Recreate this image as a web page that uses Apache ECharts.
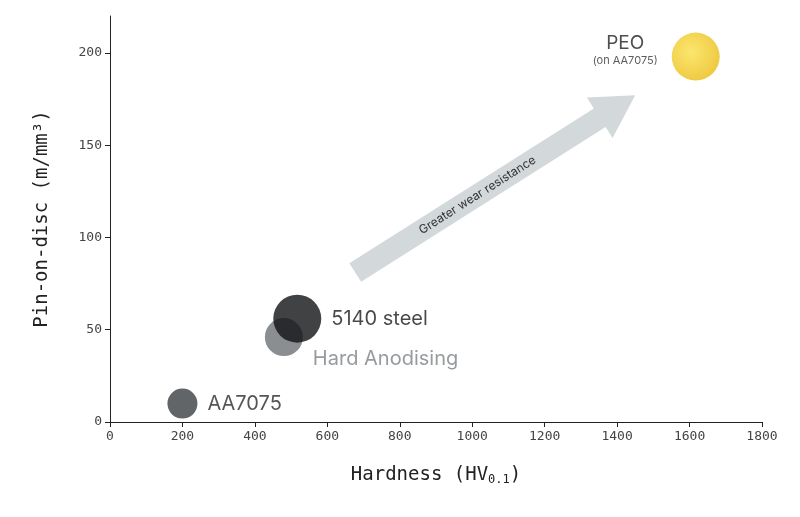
<!DOCTYPE html>
<html><head><meta charset="utf-8">
<script src="https://cdn.jsdelivr.net/npm/echarts@6/dist/echarts.min.js"></script>
<style>html,body{margin:0;background:#fff}#c{width:800px;height:517px}</style>
</head><body><div id="c"></div>
<script>
const names=['AA7075','Hard Anodising','5140 steel','PEO'];
const hardness=[200,480,517,1617];
const pinOnDisc=[10,46,56,198];
const sizes=[30,38,48,48];
const colors=['#3a3e42','#6e7276','#111315','#f2c617'];
const labelColors=['#2a2a2a','#7e8286','#1a1a1a','#222'];
const arrow=[[677,81],[1450,177]];
const mono='DejaVu Sans Mono';
const chart=echarts.init(document.getElementById('c'));
const data=names.map((n,i)=>({value:[hardness[i],pinOnDisc[i]],symbolSize:sizes[i],
 itemStyle:{color:i===3?new echarts.graphic.RadialGradient(0.4,0.4,0.7,[{offset:0,color:'#fbe04a'},{offset:1,color:'#e9b80c'}]):colors[i]},
 label:i===3?{show:true,position:'left',distance:14,formatter:'{a|PEO}\n{b|(on AA7075)}',rich:{a:{fontSize:19,color:'#222',fontFamily:'Inter',align:'center',lineHeight:24},b:{fontSize:11,color:'#333',fontFamily:'Inter',align:'center'}},offset:[0,-8]}
 :i===1?{show:true,position:'right',distance:10,offset:[0,22],formatter:n,fontSize:20,color:labelColors[i],fontFamily:'Inter'}
 :{show:true,position:'right',distance:10,formatter:n,fontSize:20,color:labelColors[i],fontFamily:'Inter'}}));
chart.setOption({
 grid:{left:110,right:38,top:16,bottom:95},
 xAxis:{type:'value',min:0,max:1800,interval:200,splitLine:{show:false},
  axisLine:{lineStyle:{color:'#222'}},axisTick:{lineStyle:{color:'#222'}},
  axisLabel:{fontFamily:mono,fontSize:13,color:'#444',formatter:v=>String(v)},
  name:'Hardness (HV{s|0.1})',nameLocation:'middle',nameGap:42,
  nameTextStyle:{fontFamily:mono,fontSize:19,color:'#222',rich:{s:{fontFamily:mono,fontSize:12,color:'#222',padding:[10,0,0,0]}}}},
 yAxis:{type:'value',min:0,max:220,interval:50,splitLine:{show:false},
  axisLine:{show:true,lineStyle:{color:'#222'}},axisTick:{show:true,lineStyle:{color:'#222'}},
  axisLabel:{fontFamily:mono,fontSize:13,color:'#444',showMaxLabel:false},
  name:'Pin-on-disc (m/mm³)',nameLocation:'middle',nameGap:58,
  nameTextStyle:{fontFamily:mono,fontSize:19,color:'#222'}},
 series:[{type:'scatter',data:data,z:3},
 {type:'custom',silent:true,z:1,data:[arrow[0].concat(arrow[1])],
  renderItem:(p,api)=>{
   const a=api.coord([api.value(0),api.value(1)]),b=api.coord([api.value(2),api.value(3)]);
   const dx=b[0]-a[0],dy=b[1]-a[1],L=Math.hypot(dx,dy),ux=dx/L,uy=dy/L,nx=-uy,ny=ux;
   const w=11,hw=24,hl=42,bx=b[0]-ux*hl,by=b[1]-uy*hl;
   const pts=[[a[0]+nx*w,a[1]+ny*w],[bx+nx*w,by+ny*w],[bx+nx*hw,by+ny*hw],b,[bx-nx*hw,by-ny*hw],[bx-nx*w,by-ny*w],[a[0]-nx*w,a[1]-ny*w]];
   const mx=(a[0]+bx)/2,my=(a[1]+by)/2;
   return {type:'group',children:[
    {type:'polygon',shape:{points:pts},style:{fill:'#d3d8da'}},
    {type:'text',x:mx,y:my,rotation:-Math.atan2(dy,dx),style:{text:'Greater wear resistance',fontSize:12,fill:'#333',fontFamily:'Inter',align:'center',verticalAlign:'middle'}}]};
  }}]
});
</script></body></html>
